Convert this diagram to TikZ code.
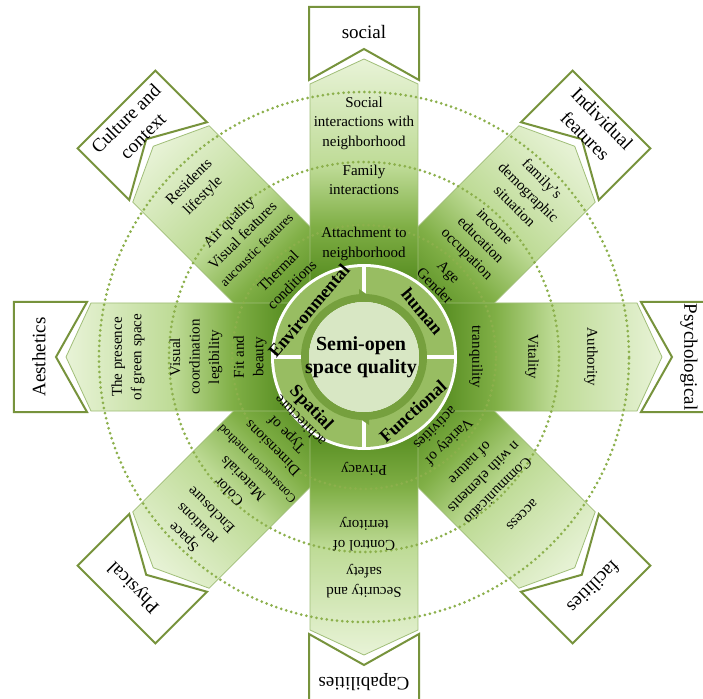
\documentclass[tikz,border=0pt]{standalone}
\usepackage{fontspec}
\setmainfont{Liberation Serif}
\usetikzlibrary{shapes}
\definecolor{armdark}{RGB}{88,142,34}
\definecolor{armmid}{RGB}{128,175,70}
\definecolor{armsoft}{RGB}{190,219,150}
\definecolor{armlight}{RGB}{232,243,215}
\definecolor{armedge}{RGB}{160,190,120}
\definecolor{boxedge}{RGB}{119,147,60}
\definecolor{dotgreen}{RGB}{140,176,76}
\definecolor{quadgreen}{RGB}{152,189,98}
\definecolor{bandgreen}{RGB}{118,160,62}
\definecolor{coregreen}{RGB}{216,231,196}
\pgfdeclarehorizontalshading{armshade}{100bp}{color(0bp)=(armdark); color(38bp)=(armdark);
    color(47bp)=(armmid); color(57bp)=(armsoft); color(75bp)=(armlight); color(100bp)=(armlight)}
\tikzstyle{armbody} = [shading=armshade, draw=armedge, line width=0.8pt]
\tikzstyle{labelbox} = [draw=boxedge, line width=2pt, fill=white]
\tikzstyle{dotring} = [draw=dotgreen, line width=3pt,
    dash pattern=on 0pt off 5.2pt, line cap=round]
\tikzstyle{armtext} = [align=center, inner sep=0pt,
    font=\fontsize{15}{19.5}\selectfont]
\tikzstyle{boxlabel} = [align=center, inner sep=0pt,
    font=\fontsize{19}{24}\selectfont]
\tikzstyle{ringlabel} = [inner sep=0pt, font=\fontsize{18}{20}\selectfont\bfseries]
\tikzstyle{corelabel} = [align=center, inner sep=0pt,
    font=\fontsize{20}{23}\selectfont\bfseries]

\begin{document}
\begin{tikzpicture}[x=1pt, y=1pt]
    % We start by fixing the page, then the eight arms (diagonals first)
    \useasboundingbox[fill=white] (-364,-341) rectangle (339,357);
    \foreach \ang in {45,135,225,315,0,90,180,270} {
        \begin{scope}[transform canvas={rotate=\ang}]
            \shade[armbody] (0,-54) -- (273,-54) -- (298,0) -- (273,54) -- (0,54) -- cycle;
        \end{scope}
    }
    % The label boxes sit just beyond the arm tips
    \foreach \ang in {0,45,...,315}
        \draw[labelbox, rotate=\ang] (277,55) -- (308,0) -- (277,-55)
            -- (350,-55) -- (350,55) -- cycle;
    \foreach \r in {132,195,265}
        \draw[dotring] (0,0) circle (\r);

    % Central disc: white rim, quadrants, arrow band and core
    \fill[white] (0,0) circle (93);
    \fill[quadgreen, even odd rule] (0,0) circle (90) (0,0) circle (56);
    \draw[white, line width=4pt] (-93,0) -- (93,0) (0,-93) -- (0,93);
    \draw[bandgreen, line width=8pt] (0,0) circle (59);
    \fill[bandgreen] (-5,68) -- (8,59) -- (-5,50) -- cycle;
    \fill[bandgreen] (5,-68) -- (-8,-59) -- (5,-50) -- cycle;
    \fill[coregreen] (0,0) circle (55);
    \node[corelabel] (core) at (-3,0) {Semi-open\\space quality};
    \node[ringlabel, rotate=50] (env) at (140:72) {Environmental};
    \node[ringlabel, rotate=-50] (hum) at (38:74) {human};
    \node[ringlabel, rotate=42] (fun) at (-48:73) {Functional};
    \node[ringlabel, rotate=-46] (spa) at (-136:74) {Spatial};

    % Texts of each arm, outer to inner, and the box label
    \foreach \ang/\lab/\outtxt/\outr/\midtxt/\midr/\intxt/\inr [count=\i] in {
        90/social/{Social\\interactions with\\neighborhood}/234/{Family\\interactions}/177/{Attachment to\\neighborhood}/113,
        45/{Individual\\features}/{family’s\\demographic\\situation}/233/{income\\education\\occupation}/164/{Age\\Gender}/110,
        0/Psychological/Authority/227/Vitality/168/tranquility/112,
        315/facilities/access/223/{Communicatio\\n with elements\\of nature}/170/{Variety of\\activities}/111,
        270/Capabilities/{Security and\\safety}/224/{Control of\\territory}/177/Privacy/112,
        225/Physical/{Space\\relations\\Enclosure}/236/{Color\\Materials\\{\fontsize{12.5}{19.5}\selectfont Construction method}}/172/{Dimensions\\Type of\\achitecture}/110,
        180/Aesthetics/{The presence\\of green space}/236/{Visual\\coordination\\legibility}/168/{Fit and\\beauty}/114,
        135/{Culture and\\context}/{Residents\\lifestyle}/237/{Air quality\\Visual features\\{\fontsize{13.5}{19.5}\selectfont aucoustic features}}/172/{Thermal\\conditions}/112} {
        \node[boxlabel, rotate=\ang-90] (lab\i) at (\ang:325) {\lab};
        \node[armtext, rotate=\ang-90] (out\i) at (\ang:\outr) {\outtxt};
        \node[armtext, rotate=\ang-90] (mid\i) at (\ang:\midr) {\midtxt};
        \node[armtext, rotate=\ang-90] (in\i) at (\ang:\inr) {\intxt};
    }
\end{tikzpicture}
\end{document}
